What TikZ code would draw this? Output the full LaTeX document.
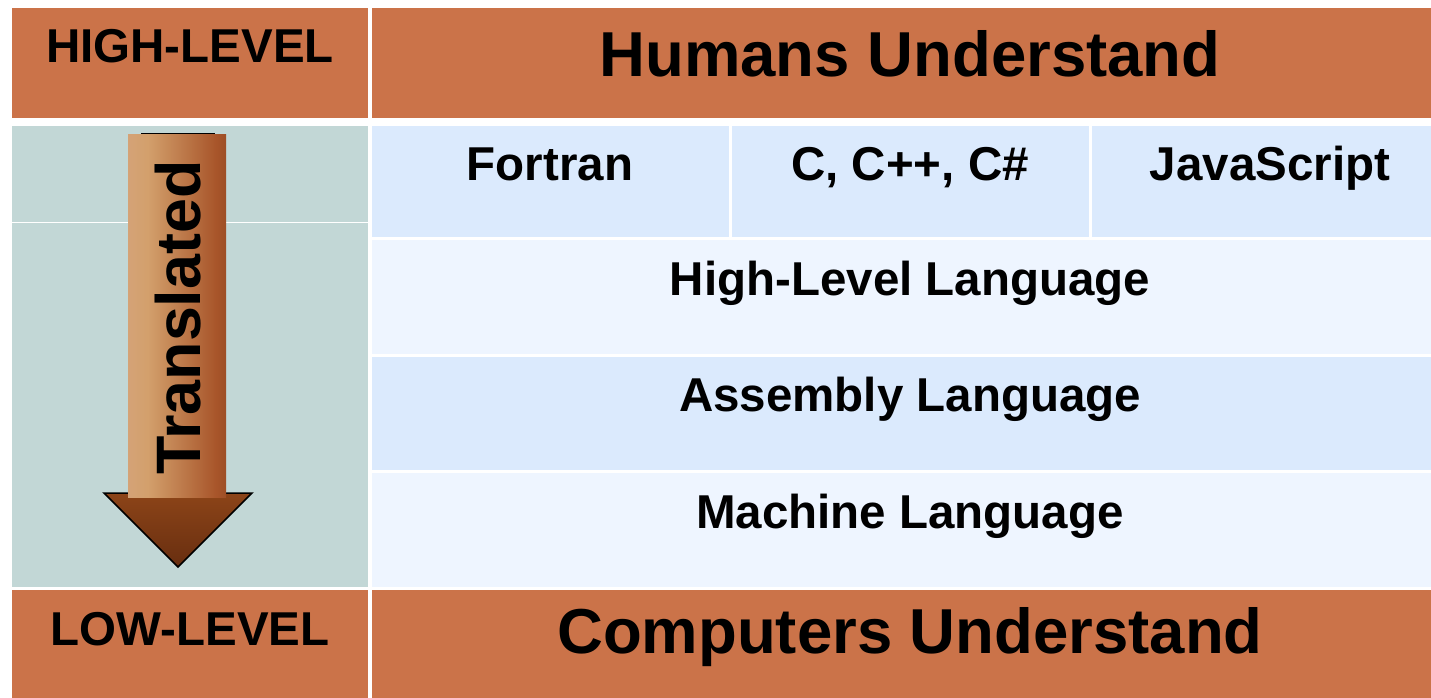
\documentclass[tikz,border=0pt]{standalone}
\usepackage{fontspec}
\setmainfont{Liberation Sans}
\definecolor{orng}{RGB}{203,115,73}
\definecolor{blueA}{RGB}{219,234,253}
\definecolor{blueB}{RGB}{238,245,255}
\definecolor{teal}{RGB}{194,215,214}
\definecolor{sA}{RGB}{214,169,146}
\definecolor{sB}{RGB}{211,160,108}
\definecolor{sC}{RGB}{168,85,42}
\definecolor{sD}{RGB}{106,48,20}
\definecolor{hTop}{RGB}{140,68,24}
\definecolor{hBot}{RGB}{104,46,16}
\pgfdeclarehorizontalshading{shaftshade}{100bp}{color(0bp)=(sA); color(35bp)=(sB); color(70bp)=(sC); color(100bp)=(sD)}
\tikzset{
  mid/.style={font=\bfseries\fontsize{47.5}{50}\selectfont, anchor=base, inner sep=0pt},
  big/.style={font=\bfseries\fontsize{63.5}{66}\selectfont, anchor=base, inner sep=0pt},
}
\begin{document}
\begin{tikzpicture}[x=1pt,y=-1pt]
\useasboundingbox (0,0) rectangle (1431,698);
% orange bands
\fill[orng] (12,8) rectangle (368,118);
\fill[orng] (372,8) rectangle (1431,118);
\fill[orng] (12,590) rectangle (368,698);
\fill[orng] (372,590) rectangle (1431,698);
% left teal column
\fill[teal] (12,126) rectangle (368,587);
\draw[white, line width=1pt] (12,222) -- (368,222);
% right cells
\fill[blueA] (372,126) rectangle (729,237);
\fill[blueA] (732,126) rectangle (1089,237);
\fill[blueA] (1092,126) rectangle (1431,237);
\fill[blueB] (372,240) rectangle (1431,354);
\fill[blueA] (372,357) rectangle (1431,470);
\fill[blueB] (372,473) rectangle (1431,587);
% arrow
\draw[black, line width=1pt] (141,133) -- (215,133);
\shade[top color=hTop, bottom color=hBot, draw=black, line width=1.5pt, line join=miter] (104,493) -- (252,493) -- (178,567) -- cycle;
\shade[shading=shaftshade] (128,134) rectangle (226,497);
\node[font=\bfseries\fontsize{62.8}{66}\selectfont, anchor=base, inner sep=0pt, rotate=90] (trans) at (200,317.5) {Translated};
% texts
\node[mid] (hl) at (190,63) {HIGH-LEVEL};
\node[mid] (ll) at (190,645) {LOW-LEVEL};
\node[big] (hu) at (910,76.7) {Humans Understand};
\node[big] (cu) at (910,653) {Computers Understand};
\node[mid] (fo) at (550,180) {Fortran};
\node[mid] (cc) at (910,180) {C, C++, C\#};
\node[mid] (js) at (1270,180) {JavaScript};
\node[mid] (hll) at (910,295) {High-Level Language};
\node[mid] (asm) at (910,411.7) {Assembly Language};
\node[mid] (mach) at (910,528) {Machine Language};
\end{tikzpicture}
\end{document}
